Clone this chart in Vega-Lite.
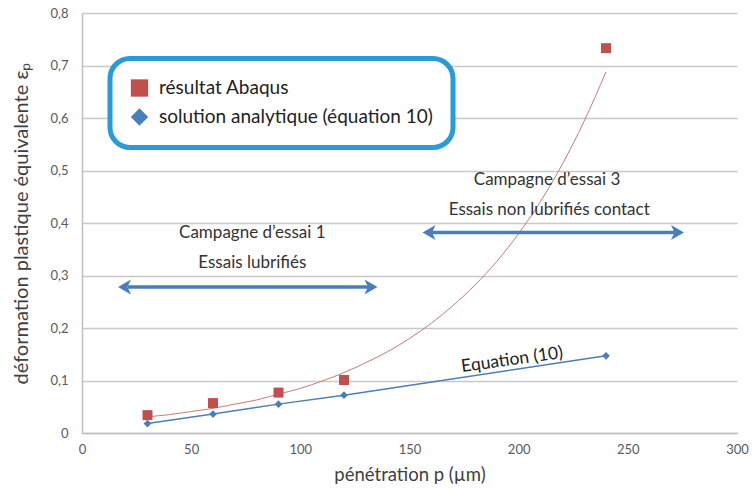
{
  "$schema": "https://vega.github.io/schema/vega-lite/v6.json",
  "width": 655,
  "height": 420,
  "autosize": {"type": "none"},
  "padding": {"left": 82, "top": 13, "right": 19, "bottom": 57},
  "background": "white",
  "config": {
    "view": {"stroke": null},
    "font": "Lato",
    "legend": {"strokeWidth": 5}
  },
  "datasets": {
    "points": [
      {"p": 30, "eps": 0.034, "serie": "résultat Abaqus"},
      {"p": 60, "eps": 0.057, "serie": "résultat Abaqus"},
      {"p": 90, "eps": 0.077, "serie": "résultat Abaqus"},
      {"p": 120, "eps": 0.101, "serie": "résultat Abaqus"},
      {"p": 240, "eps": 0.733, "serie": "résultat Abaqus"},
      {"p": 30, "eps": 0.018, "serie": "solution analytique (équation 10)"},
      {"p": 60, "eps": 0.036, "serie": "solution analytique (équation 10)"},
      {"p": 90, "eps": 0.055, "serie": "solution analytique (équation 10)"},
      {"p": 120, "eps": 0.072, "serie": "solution analytique (équation 10)"},
      {"p": 240, "eps": 0.147, "serie": "solution analytique (équation 10)"}
    ],
    "curve": [
      {"p": 30, "eps": 0.031}, {"p": 40, "eps": 0.035}, {"p": 50, "eps": 0.041},
      {"p": 60, "eps": 0.047}, {"p": 70, "eps": 0.055}, {"p": 80, "eps": 0.063},
      {"p": 90, "eps": 0.074}, {"p": 100, "eps": 0.085}, {"p": 110, "eps": 0.099},
      {"p": 120, "eps": 0.115}, {"p": 130, "eps": 0.134}, {"p": 140, "eps": 0.155},
      {"p": 150, "eps": 0.18}, {"p": 160, "eps": 0.209}, {"p": 170, "eps": 0.243},
      {"p": 180, "eps": 0.282}, {"p": 190, "eps": 0.327}, {"p": 200, "eps": 0.38},
      {"p": 210, "eps": 0.441}, {"p": 220, "eps": 0.512}, {"p": 230, "eps": 0.594},
      {"p": 240, "eps": 0.688}
    ],
    "arrows": [
      {"x1": 21, "x2": 131, "y": 0.278},
      {"x1": 160, "x2": 271.5, "y": 0.382}
    ],
    "headsLeft": [
      {"x": 20.6, "y": 0.278},
      {"x": 160.1, "y": 0.382}
    ],
    "headsRight": [
      {"x": 131.2, "y": 0.278},
      {"x": 271.6, "y": 0.382}
    ],
    "labels": [
      {"x": 78, "y": 0.381, "t": "Campagne  d’essai 1"},
      {"x": 78, "y": 0.323, "t": "Essais lubrifiés"},
      {"x": 213, "y": 0.482, "t": "Campagne  d’essai 3"},
      {"x": 214, "y": 0.425, "t": "Essais non lubrifiés contact"}
    ],
    "eqlabel": [
      {"x": 197, "y": 0.139, "t": "Equation (10)"}
    ]
  },
  "layer": [
    {
      "data": {"name": "curve"},
      "mark": {"type": "line", "color": "#C47B79", "strokeWidth": 1, "interpolate": "monotone"},
      "encoding": {
        "x": {"field": "p", "type": "quantitative", "scale": {"domain": [0, 300]},
          "axis": {"values": [0, 50, 100, 150, 200, 250, 300], "title": "pénétration p (µm)", "grid": false, "ticks": false,
            "domainColor": "#BFBFBF", "domainWidth": 1.5, "labelColor": "#5A5A5A", "labelFontSize": 13, "labelPadding": 10,
            "titleFontSize": 18.5, "titleFontWeight": "normal", "titleColor": "#404040", "titlePadding": 9, "labelFlush": false}},
        "y": {"field": "eps", "type": "quantitative", "scale": {"domain": [0, 0.8]},
          "axis": {"values": [0, 0.1, 0.2, 0.3, 0.4, 0.5, 0.6, 0.7, 0.8], "title": "déformation plastique équivalente εₚ",
            "labelExpr": "datum.value == 0 ? '0' : replace(format(datum.value, '.1f'), '.', ',')",
            "grid": true, "gridColor": "#C8C8C8", "gridWidth": 1.5, "ticks": false,
            "domainColor": "#BFBFBF", "domainWidth": 1.5, "labelColor": "#5A5A5A", "labelFontSize": 13, "labelPadding": 14,
            "titleFontSize": 20, "titleFontWeight": "normal", "titleColor": "#404040", "titlePadding": 18}}
      }
    },
    {
      "data": {"name": "points"},
      "transform": [{"filter": "datum.serie == 'solution analytique (équation 10)'"}],
      "mark": {"type": "line", "color": "#4A7EBB", "strokeWidth": 1.5},
      "encoding": {
        "x": {"field": "p", "type": "quantitative"},
        "y": {"field": "eps", "type": "quantitative"}
      }
    },
    {
      "data": {"name": "points"},
      "transform": [{"filter": "datum.serie == 'résultat Abaqus'"}],
      "mark": {"type": "point", "filled": true, "opacity": 1, "size": 100},
      "encoding": {
        "x": {"field": "p", "type": "quantitative"},
        "y": {"field": "eps", "type": "quantitative"},
        "color": {"field": "serie", "type": "nominal",
          "scale": {"domain": ["résultat Abaqus", "solution analytique (équation 10)"], "range": ["#C0504D", "#4A7EBB"]},
          "legend": {"title": null, "orient": "none", "legendX": 28, "legendY": 45.5, "padding": 20,
            "strokeColor": "#2B9BD8", "cornerRadius": 20, "fillColor": "white",
            "labelFontSize": 19, "labelColor": "#222222", "labelFont": "Lato", "symbolSize": 300, "symbolStrokeWidth": 0,
            "rowPadding": 9, "labelOffset": 10, "labelLimit": 400}},
        "shape": {"field": "serie", "type": "nominal",
          "scale": {"domain": ["résultat Abaqus", "solution analytique (équation 10)"], "range": ["square", "diamond"]},
          "legend": {"title": null, "orient": "none", "legendX": 28, "legendY": 45.5, "padding": 20,
            "strokeColor": "#2B9BD8", "cornerRadius": 20, "fillColor": "white",
            "labelFontSize": 19, "labelColor": "#222222", "labelFont": "Lato", "symbolSize": 300, "symbolStrokeWidth": 0,
            "rowPadding": 9, "labelOffset": 10, "labelLimit": 400}}
      }
    },
    {
      "data": {"name": "points"},
      "transform": [{"filter": "datum.serie == 'solution analytique (équation 10)'"}],
      "mark": {"type": "point", "filled": true, "opacity": 1, "size": 60},
      "encoding": {
        "x": {"field": "p", "type": "quantitative"},
        "y": {"field": "eps", "type": "quantitative"},
        "color": {"field": "serie", "type": "nominal"},
        "shape": {"field": "serie", "type": "nominal"}
      }
    },
    {
      "data": {"name": "arrows"},
      "mark": {"type": "rule", "color": "#4A7EBB", "strokeWidth": 3.5},
      "encoding": {
        "x": {"field": "x1", "type": "quantitative"},
        "x2": {"field": "x2"},
        "y": {"field": "y", "type": "quantitative"}
      }
    },
    {
      "data": {"name": "headsLeft"},
      "mark": {"type": "point", "filled": true, "color": "#4A7EBB", "opacity": 1, "size": 400,
        "shape": "M -0.9 0 L 0.4 -0.75 L 0.05 0 L 0.4 0.75 Z"},
      "encoding": {
        "x": {"field": "x", "type": "quantitative"},
        "y": {"field": "y", "type": "quantitative"}
      }
    },
    {
      "data": {"name": "headsRight"},
      "mark": {"type": "point", "filled": true, "color": "#4A7EBB", "opacity": 1, "size": 400,
        "shape": "M 0.9 0 L -0.4 -0.75 L -0.05 0 L -0.4 0.75 Z"},
      "encoding": {
        "x": {"field": "x", "type": "quantitative"},
        "y": {"field": "y", "type": "quantitative"}
      }
    },
    {
      "data": {"name": "labels"},
      "mark": {"type": "text", "fontSize": 17, "color": "#333333", "font": "Lato", "align": "center", "baseline": "middle"},
      "encoding": {
        "x": {"field": "x", "type": "quantitative"},
        "y": {"field": "y", "type": "quantitative"},
        "text": {"field": "t"}
      }
    },
    {
      "data": {"name": "eqlabel"},
      "mark": {"type": "text", "fontSize": 17.5, "color": "#222222", "font": "Lato", "align": "center", "baseline": "middle", "angle": -8},
      "encoding": {
        "x": {"field": "x", "type": "quantitative"},
        "y": {"field": "y", "type": "quantitative"},
        "text": {"field": "t"}
      }
    }
  ]
}
